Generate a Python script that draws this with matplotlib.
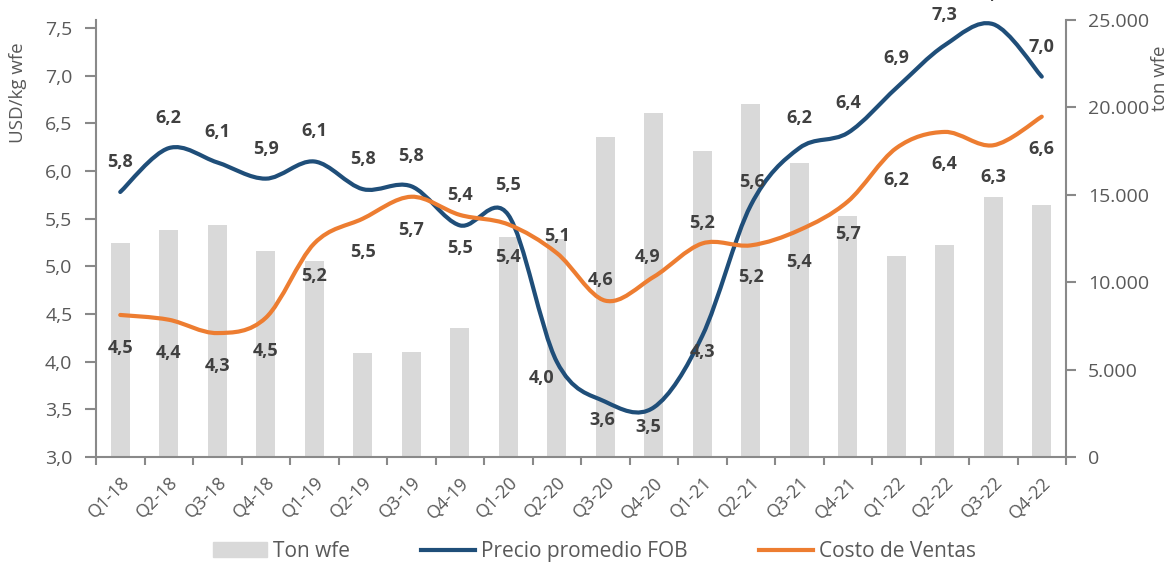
import numpy as np
import matplotlib.pyplot as plt
from matplotlib.path import Path
from matplotlib.patches import PathPatch
from matplotlib.lines import Line2D
from matplotlib.patches import Patch

plt.rcParams['font.family'] = ['Open Sans', 'DejaVu Sans']

quarters = ['Q1-18', 'Q2-18', 'Q3-18', 'Q4-18', 'Q1-19', 'Q2-19', 'Q3-19', 'Q4-19',
            'Q1-20', 'Q2-20', 'Q3-20', 'Q4-20', 'Q1-21', 'Q2-21', 'Q3-21', 'Q4-21',
            'Q1-22', 'Q2-22', 'Q3-22', 'Q4-22']

ton_wfe = [12250, 13000, 13300, 11800, 11200, 5950, 6000, 7400,
           12600, 12500, 18300, 19700, 17500, 20200, 16800, 13800,
           11500, 12100, 14900, 14400]

precio_fob = [5.78, 6.24, 6.09, 5.92, 6.10, 5.81, 5.84, 5.43,
              5.54, 4.00, 3.58, 3.52, 4.27, 5.64, 6.24, 6.40,
              6.87, 7.32, 7.54, 6.99]

costo_ventas = [4.49, 4.44, 4.30, 4.46, 5.24, 5.50, 5.73, 5.54,
                5.44, 5.14, 4.64, 4.89, 5.24, 5.22, 5.38, 5.68,
                6.24, 6.41, 6.27, 6.57]

BLUE = '#1F4E79'
ORANGE = '#ED7D31'
BAR = '#D9D9D9'
GRID = '#898989'
TXT = '#595959'
LBL = '#404040'

# label offsets in pixels (dx, dy), y up
fob_off = [(0, 30)] * 9 + [(-15, -16), (-3, -18), (-6, -20), (0, -16)] + [(1, 23)] + [(0, 30)] * 6
cv_off = [(0, -33)] * 9 + [(0, 17), (-5, 21), (-6, 20), (0, 20)] + [(0, -32)] * 7


def smooth_path(xs, ys):
    # excel-like smoothed line as cubic bezier segments
    pts = np.column_stack([xs, ys]).astype(float)
    ext = np.vstack([pts[0], pts, pts[-1]])
    verts = [pts[0]]
    codes = [Path.MOVETO]
    for i in range(len(pts) - 1):
        p0, p1, p2, p3 = ext[i], ext[i + 1], ext[i + 2], ext[i + 3]
        verts += [p1 + (p2 - p0) / 6, p2 - (p3 - p1) / 6, p2]
        codes += [Path.CURVE4] * 3
    return Path(verts, codes)


def main():
    fig = plt.figure(figsize=(11.7, 5.62), dpi=100)
    ax = fig.add_axes([96 / 1170, 1 - 457 / 562, 970 / 1170, 437 / 562])
    ax2 = ax.twinx()
    ax.set_zorder(ax2.get_zorder() + 1)
    ax.patch.set_visible(False)

    x = np.arange(len(quarters))
    ax2.bar(x, ton_wfe, width=0.4, color=BAR)
    ax2.set_ylim(0, 25000)
    ax2.set_yticks(np.arange(0, 25001, 5000))
    ax2.set_yticklabels([f'{v:,}'.replace(',', '.') for v in range(0, 25001, 5000)])

    for vals, col, offs in [(precio_fob, BLUE, fob_off), (costo_ventas, ORANGE, cv_off)]:
        ax.add_patch(PathPatch(smooth_path(x, vals), fill=False, edgecolor=col,
                               lw=3, capstyle='round', joinstyle='round', clip_on=False))
        for xi, v, (dx, dy) in zip(x, vals, offs):
            ax.annotate(f'{v:.1f}'.replace('.', ','), (xi, v), xytext=(dx, dy),
                        textcoords='offset pixels', ha='center', va='center',
                        fontsize=13, fontweight='bold', color=LBL, annotation_clip=False)

    ax.set_xlim(-0.5, len(quarters) - 0.5)
    ax.set_ylim(3.0, 3.0 + 437 / 95.33)
    ax.set_yticks(np.arange(3.0, 7.51, 0.5))
    ax.set_yticklabels([f'{v:.1f}'.replace('.', ',') for v in np.arange(3.0, 7.51, 0.5)])
    ax.set_xticks(x)
    ax.set_xticklabels(quarters, rotation=45, ha='right', rotation_mode='anchor')
    ax.set_xticks(np.arange(-0.5, len(quarters), 1), minor=True)
    ax.tick_params(axis='x', which='major', length=0, pad=12, labelsize=13, labelcolor=TXT)
    ax.tick_params(axis='x', which='minor', length=6, width=1.5, color=GRID, direction='out')
    ax.tick_params(axis='y', length=8, width=1.5, color=GRID, labelsize=14, labelcolor=TXT, pad=9)
    ax2.tick_params(axis='y', length=7, width=1.5, color=GRID, labelsize=14, labelcolor=TXT, pad=9)

    for a in (ax, ax2):
        for s in a.spines.values():
            s.set_visible(False)
    ax.spines['left'].set_visible(True)
    ax.spines['bottom'].set_visible(True)
    ax2.spines['right'].set_visible(True)
    for s in (ax.spines['left'], ax.spines['bottom'], ax2.spines['right']):
        s.set_color(GRID)
        s.set_linewidth(1.5)

    fig.text(18 / 1170, 1 - 93 / 562, 'USD/kg wfe', rotation=90, ha='center', va='center',
             fontsize=13.5, color=TXT)
    fig.text(1160 / 1170, 1 - 78 / 562, 'ton wfe', rotation=90, ha='center', va='center',
             fontsize=13.5, color=TXT)

    handles = [Patch(color=BAR), Line2D([], [], color=BLUE, lw=3), Line2D([], [], color=ORANGE, lw=3)]
    fig.legend(handles, ['Ton wfe', 'Precio promedio FOB', 'Costo de Ventas'],
               loc='center', bbox_to_anchor=(0.508, 0.019), ncol=3, frameon=False,
               fontsize=15, handlelength=2.6, handletextpad=0.3, columnspacing=3.4,
               labelcolor=TXT)

    fig.savefig('out.png', dpi=100)


if __name__ == '__main__':
    main()
